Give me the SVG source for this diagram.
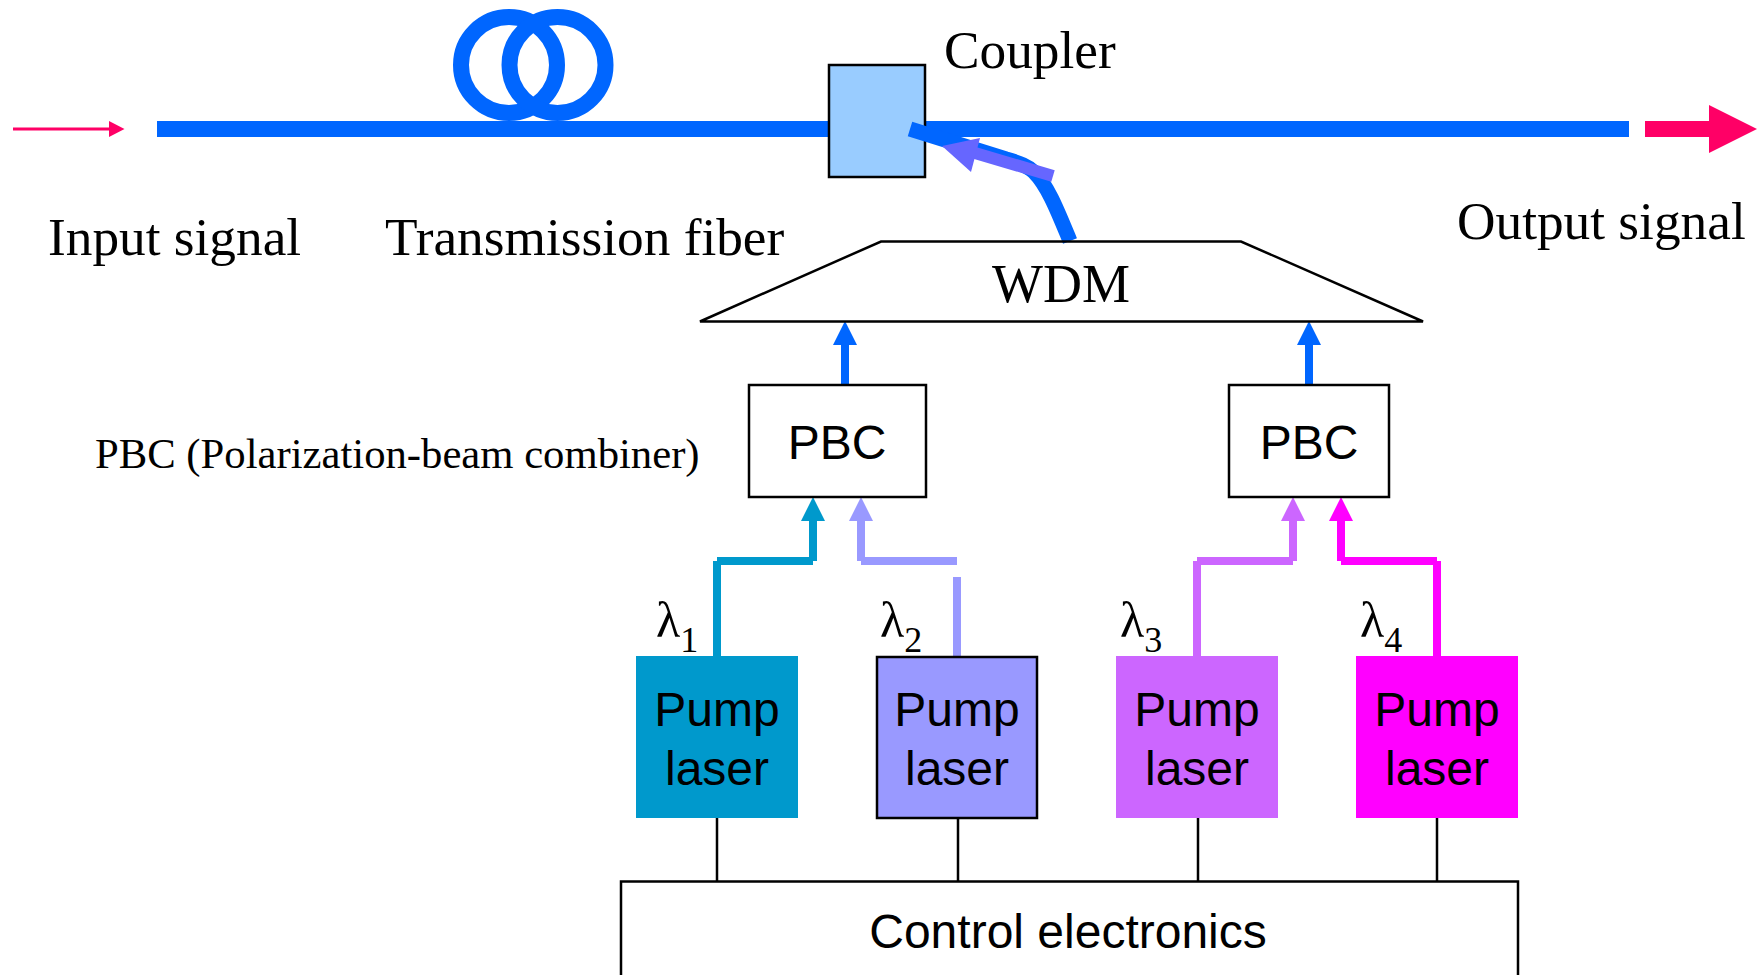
<svg xmlns="http://www.w3.org/2000/svg" width="1758" height="975" viewBox="0 0 1758 975">
<style>
.box{stroke:#000;stroke-width:2.5}
.s{font-family:"Liberation Serif",serif;fill:#000}
.a{font-family:"Liberation Sans",sans-serif;fill:#000;text-anchor:middle}
.w{fill:none;stroke:#000;stroke-width:2.5}
.lab{font-size:53.3px}
.pump{font-size:48px}
.lam{font-size:50px}
.sub{font-size:36px}
</style>
<rect width="1758" height="975" fill="#fff"/>
<g id="fiber-loop" fill="none" stroke="#0066ff" stroke-width="16">
<circle cx="509" cy="65" r="48"/><circle cx="557.5" cy="65" r="48"/>
</g>
<g id="connectors">
<path d="M157 129H829M925 129H1629" stroke="#0066ff" stroke-width="16" fill="none"/>
<path d="M13 129H110" stroke="#ff0066" stroke-width="3"/><path d="M109 121L124.500 129L109 137Z" fill="#ff0066"/>
<path d="M1645 129H1710" stroke="#ff0066" stroke-width="16"/><path d="M1709 105L1757 129L1709 153Z" fill="#ff0066"/>
<path d="M845 385V345" stroke="#0066ff" stroke-width="8"/><path d="M845 321L857 345H833Z" fill="#0066ff"/>
<path d="M1309 385V345" stroke="#0066ff" stroke-width="8"/><path d="M1309 321L1321 345H1297Z" fill="#0066ff"/>
<path d="M717 656V561M717 561H813M813 561V520" stroke="#0099cc" stroke-width="8" fill="none"/><path d="M813 497L825 521H801Z" fill="#0099cc"/>
<path d="M957 561H861M861 561V520" stroke="#9999ff" stroke-width="8" fill="none"/><path d="M957 577V658" stroke="#9999ff" stroke-width="8"/><path d="M861 497L873 521H849Z" fill="#9999ff"/>
<path d="M1197 656V561M1197 561H1293M1293 561V520" stroke="#cc66ff" stroke-width="8" fill="none"/><path d="M1293 497L1305 521H1281Z" fill="#cc66ff"/>
<path d="M1437 656V561M1437 561H1341M1341 561V520" stroke="#ff00ff" stroke-width="8" fill="none"/><path d="M1341 497L1353 521H1329Z" fill="#ff00ff"/>
<path d="M717 818V881M958 818V881M1198 818V881M1437 818V881" class="w"/>
</g>
<g id="coupler">
<rect x="829" y="65" width="96" height="112" fill="#99ccff" class="box"/>
</g>
<g id="coupler-feed">
<path d="M1070 241C1058 212 1048 186 1034 172C1028 166 1020 163 1006 159L910 129" fill="none" stroke="#0066ff" stroke-width="15"/>
<path d="M1053 176L975 153" stroke="#6666ff" stroke-width="12"/><path d="M942 146L980 138L971 172Z" fill="#6666ff"/>
</g>
<g id="wdm">
<path d="M881 241.500H1241L1423 321.500H700Z" fill="none" class="box"/>
<text x="1061" y="302" class="s" font-size="54" text-anchor="middle">WDM</text>
</g>
<g id="pbc1"><rect x="749" y="385" width="177" height="112" fill="#fff" class="box"/><text x="837" y="459" class="a pump">PBC</text></g>
<g id="pbc2"><rect x="1229" y="385" width="160" height="112" fill="#fff" class="box"/><text x="1309" y="459" class="a pump">PBC</text></g>
<g id="laser1"><rect x="636" y="656" width="162" height="162" fill="#0099cc"/><text x="717" y="726" class="a pump">Pump</text><text x="717" y="785" class="a pump">laser</text></g>
<g id="laser2"><rect x="877" y="657" width="160" height="161" fill="#9999ff" class="box"/><text x="957" y="726" class="a pump">Pump</text><text x="957" y="785" class="a pump">laser</text></g>
<g id="laser3"><rect x="1116" y="656" width="162" height="162" fill="#cc66ff"/><text x="1197" y="726" class="a pump">Pump</text><text x="1197" y="785" class="a pump">laser</text></g>
<g id="laser4"><rect x="1356" y="656" width="162" height="162" fill="#ff00ff"/><text x="1437" y="726" class="a pump">Pump</text><text x="1437" y="785" class="a pump">laser</text></g>
<g id="control"><path d="M621 975V881.500H1518V975" class="w" fill="#fff"/><text x="1068" y="948" class="a pump">Control electronics</text></g>
<g id="labels">
<text x="48" y="255" class="s lab">Input signal</text>
<text x="385" y="255" class="s lab">Transmission fiber</text>
<text x="944" y="68" class="s lab">Coupler</text>
<text x="1457" y="239" class="s lab">Output signal</text>
<text x="95" y="468" class="s" font-size="42.700">PBC (Polarization-beam combiner)</text>
<text x="656" y="637" class="s lam">λ<tspan class="sub" dy="15">1</tspan></text>
<text x="880" y="637" class="s lam">λ<tspan class="sub" dy="15">2</tspan></text>
<text x="1120" y="637" class="s lam">λ<tspan class="sub" dy="15">3</tspan></text>
<text x="1360" y="637" class="s lam">λ<tspan class="sub" dy="15">4</tspan></text>
</g>
</svg>
